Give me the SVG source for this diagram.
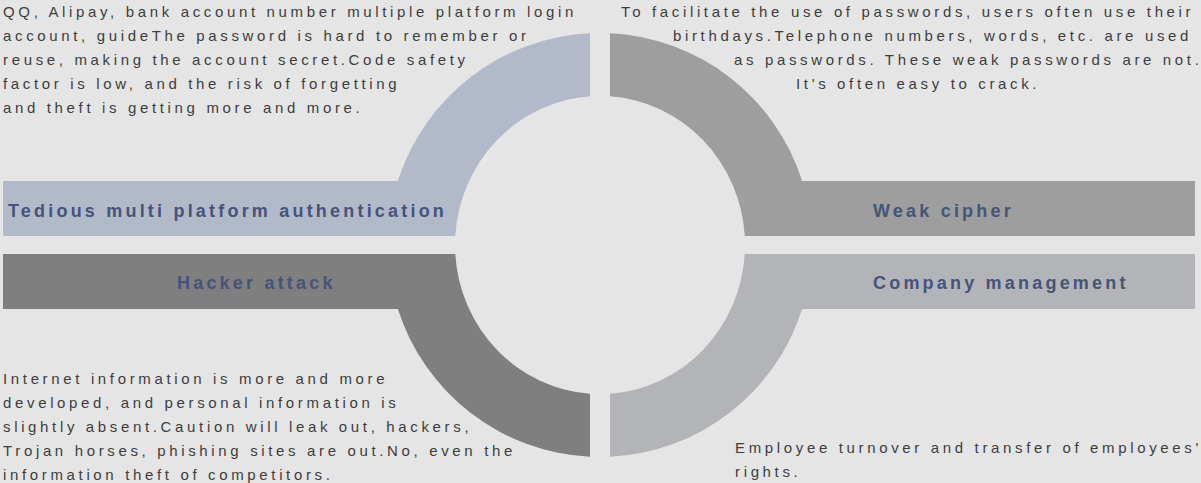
<svg xmlns="http://www.w3.org/2000/svg" width="1201" height="483" viewBox="0 0 1201 483">
<style>
.body{font-family:"Liberation Sans",Arial,sans-serif;font-size:15px;letter-spacing:3.65px;fill:#3d3d3d}
.lbl{font-family:"Liberation Sans",Arial,sans-serif;font-size:18px;font-weight:bold;letter-spacing:3.2px;fill:#46537a}
.tight{letter-spacing:0}
</style>
<rect x="0" y="0" width="1201" height="483" fill="#e5e5e5"/>
<g id="connectors"/>
<g id="node-auth">
<path d="M3,181 H397.9 A212,212 0 0 1 590,33.24 V96.35 A145,149 0 0 0 455.27,236 H3 Z" fill="#b2b9c9"/>
<text class="lbl" x="8" y="217">Tedious multi platform authentication</text>
<text class="body" x="3" y="17">QQ, Alipay, bank account number multiple platform login</text>
<text class="body" x="3" y="41">account, guideThe password is hard to remember or</text>
<text class="body" x="3" y="65">reuse, making the account secret.Code safety</text>
<text class="body" x="3" y="89">factor is low, and the risk of forgetting</text>
<text class="body" x="3" y="113">and theft is getting more and more.</text>
</g>
<g id="node-weak">
<path d="M1195,181 H802.1 A212,212 0 0 0 610,33.24 V96.35 A145,149 0 0 1 744.73,236 H1195 Z" fill="#9e9e9e"/>
<text class="lbl" x="873" y="217">Weak cipher</text>
<text class="body" x="621" y="17">To facilitate the use of passwords, users often use their</text>
<text class="body" x="673" y="41">birthdays.Telephone numbers, words, etc. are used</text>
<text class="body" x="734" y="65">as passwords. These weak passwords are not<tspan class="tight">.</tspan></text>
<text class="body" x="796" y="89">It's often easy to crack.</text>
</g>
<g id="node-hacker">
<path d="M3,309 H397.9 A212,212 0 0 0 590,456.76 V393.65 A145,149 0 0 1 455.27,254 H3 Z" fill="#7f7f7f"/>
<text class="lbl" x="177" y="289">Hacker attack</text>
<text class="body" x="3" y="384">Internet information is more and more</text>
<text class="body" x="3" y="408">developed, and personal information is</text>
<text class="body" x="3" y="432">slightly absent.Caution will leak out, hackers,</text>
<text class="body" x="3" y="456">Trojan horses, phishing sites are out.No, even the</text>
<text class="body" x="3" y="480">information theft of competitors.</text>
</g>
<g id="node-company">
<path d="M1195,309 H802.1 A212,212 0 0 1 610,456.76 V393.65 A145,149 0 0 0 744.73,254 H1195 Z" fill="#b3b4b8"/>
<text class="lbl" x="873" y="289">Company management</text>
<text class="body" x="735" y="453">Employee turnover and transfer of employees'</text>
<text class="body" x="735" y="477">rights.</text>
</g>
</svg>
